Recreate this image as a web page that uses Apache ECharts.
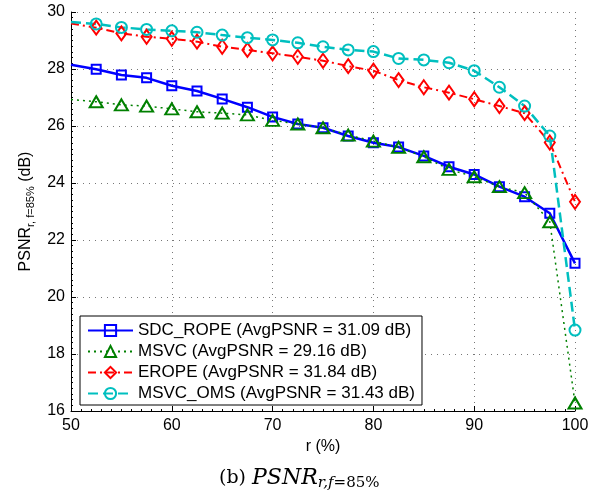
<!DOCTYPE html>
<html><head><meta charset="utf-8">
<script src="https://cdn.jsdelivr.net/npm/echarts@6/dist/echarts.min.js"></script>
<style>html,body{margin:0;padding:0;background:#fff}#c{width:600px;height:491px}</style>
</head><body><div id="c"></div>
<script>
var rValues = [50, 52.5, 55, 57.5, 60, 62.5, 65, 67.5, 70, 72.5, 75, 77.5, 80, 82.5, 85, 87.5, 90, 92.5, 95, 97.5, 100];
var sdcRope = [28.15, 27.99, 27.79, 27.69, 27.41, 27.23, 26.95, 26.66, 26.32, 26.07, 25.94, 25.65, 25.41, 25.26, 24.95, 24.57, 24.3, 23.87, 23.52, 22.94, 21.18];
var msvc    = [26.93, 26.85, 26.74, 26.7, 26.6, 26.5, 26.45, 26.39, 26.2, 26.07, 25.94, 25.68, 25.47, 25.25, 24.92, 24.48, 24.22, 23.87, 23.66, 22.64, 16.28];
var erope   = [29.6, 29.45, 29.25, 29.13, 29.06, 28.96, 28.78, 28.67, 28.55, 28.43, 28.29, 28.1, 27.94, 27.61, 27.36, 27.17, 26.94, 26.7, 26.45, 25.42, 23.34];
var msvcOms = [29.65, 29.58, 29.46, 29.39, 29.34, 29.29, 29.19, 29.1, 29.02, 28.92, 28.78, 28.67, 28.61, 28.37, 28.32, 28.22, 27.94, 27.36, 26.7, 25.65, 18.84];
var seriesNames = ['SDC_ROPE (AvgPSNR = 31.09 dB)', 'MSVC (AvgPSNR = 29.16 dB)', 'EROPE (AvgPSNR = 31.84 dB)', 'MSVC_OMS (AvgPSNR = 31.43 dB)'];
var xTicks = [50, 60, 70, 80, 90, 100];
var yTicks = [16, 18, 20, 22, 24, 26, 28, 30];

function pts(arr) {
  return arr.map(function (v, i) {
    var d = { value: [rValues[i], v] };
    if (i === 0) d.symbol = 'none';
    return d;
  });
}
function mk(name, data, color, lineType, lineW, symbol, symSize) {
  return {
    name: name, type: 'line', data: pts(data),
    symbol: symbol, symbolSize: symSize, showAllSymbol: true,
    lineStyle: { color: color, width: lineW, type: lineType },
    itemStyle: { color: 'rgba(255,255,255,0)', borderColor: color, borderWidth: 2 },
    emphasis: { disabled: true }, animation: false
  };
}
var chart = echarts.init(document.getElementById('c'), null, { renderer: 'canvas' });
var font = 'Liberation Sans, Arial, sans-serif';
var serif = 'DejaVu Serif, Liberation Serif, serif';
chart.setOption({
  animation: false,
  backgroundColor: '#fff',
  grid: { left: 71, right: 25, top: 12, bottom: 80 },
  xAxis: {
    type: 'value', min: 50, max: 100, interval: 10,
    name: 'r (%)', nameLocation: 'middle', nameGap: 21,
    nameTextStyle: { fontFamily: font, fontSize: 16, color: '#000' },
    axisLine: { lineStyle: { color: '#000', width: 1 } },
    axisTick: { inside: true, length: 5, lineStyle: { color: '#000' } },
    minorTick: { show: true, splitNumber: 10, length: 2, lineStyle: { color: '#000' } },
    axisLabel: { fontFamily: font, fontSize: 16, color: '#000', margin: 7,
      formatter: function (v) { return xTicks.indexOf(v) >= 0 ? String(v) : ''; } },
    splitLine: { show: true, lineStyle: { color: '#777', width: 1, type: [1, 5] } }
  },
  yAxis: {
    type: 'value', min: 16, max: 30, interval: 2,
    name: '{m|PSNR}{s|r, f=85%}{m| (dB)}', nameLocation: 'middle', nameGap: 34, nameRotate: 90,
    nameTextStyle: { fontFamily: font, color: '#000',
      rich: { m: { fontFamily: font, fontSize: 16, color: '#000' },
              s: { fontFamily: font, fontSize: 11, color: '#000', padding: [10, 0, 0, 0] } } },
    axisLine: { show: true, lineStyle: { color: '#000', width: 1 } },
    axisTick: { show: true, inside: true, length: 5, lineStyle: { color: '#000' } },
    minorTick: { show: true, splitNumber: 10, length: 2, lineStyle: { color: '#000' } },
    axisLabel: { fontFamily: font, fontSize: 16, color: '#000', margin: 6,
      formatter: function (v) { return yTicks.indexOf(v) >= 0 ? String(v) : ''; } },
    splitLine: { show: true, lineStyle: { color: '#777', width: 1, type: [1, 5] } }
  },
  legend: {
    orient: 'vertical', left: 80, top: 316,
    backgroundColor: '#fff', borderColor: '#000', borderWidth: 1, borderRadius: 0,
    padding: [6, 7, 3, 7], itemGap: 4, itemWidth: 45, itemHeight: 14,
    textStyle: { fontFamily: font, fontSize: 17, color: '#000' },
    data: seriesNames
  },
  graphic: [{
    type: 'text', left: 219, top: 467,
    style: {
      text: '{a|(b) }{p|PSNR}{s|r,f}{t|=85%}',
      rich: {
        a: { fontFamily: serif, fontSize: 19, fill: '#000' },
        p: { fontFamily: serif, fontStyle: 'italic', fontSize: 22, fill: '#000' },
        s: { fontFamily: serif, fontStyle: 'italic', fontSize: 15, fill: '#000', padding: [10, 0, 0, 0] },
        t: { fontFamily: serif, fontSize: 15, fill: '#000', padding: [10, 0, 0, 0] }
      }
    }
  }],
  series: [
    mk(seriesNames[0], sdcRope, '#0000ff', 'solid', 2.5, 'rect', 9),
    mk(seriesNames[1], msvc, '#008000', [2, 4], 1.5, 'triangle', [13, 11]),
    mk(seriesNames[2], erope, '#ff0000', [8, 4, 2, 4], 2, 'diamond', [10, 14]),
    mk(seriesNames[3], msvcOms, '#00bfbf', [10, 5], 2.5, 'circle', 11)
  ]
});
</script></body></html>
